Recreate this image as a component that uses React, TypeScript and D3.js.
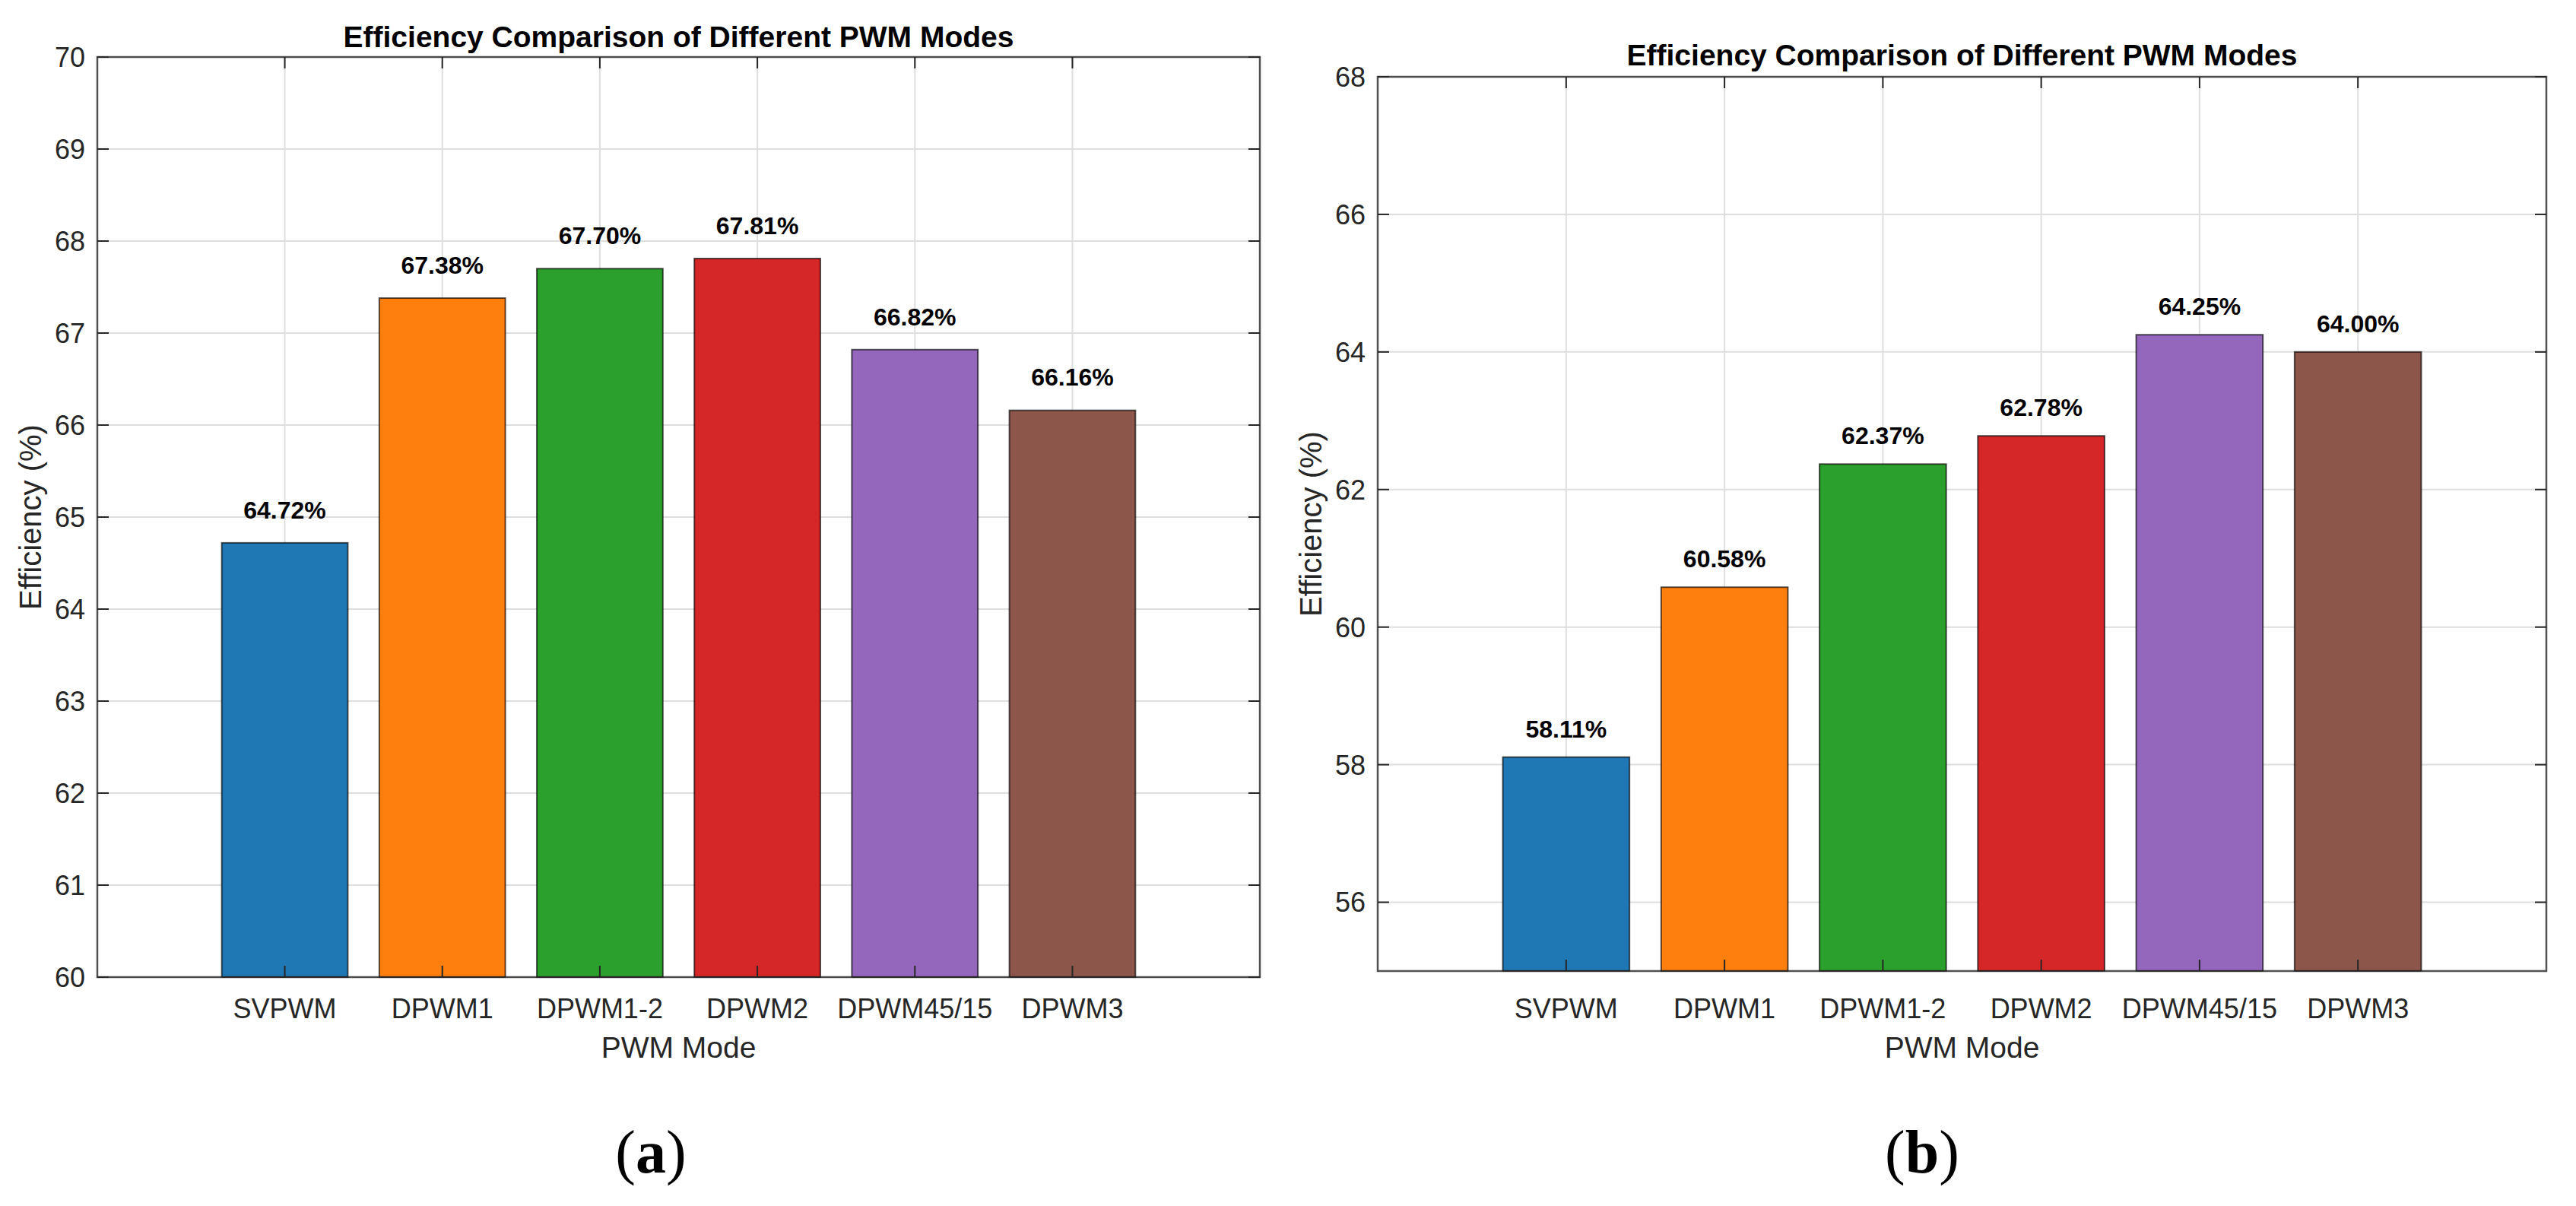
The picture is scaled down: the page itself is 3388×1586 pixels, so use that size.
import React, { useEffect, useRef } from "react";
import * as d3 from "d3";

const modes = ["SVPWM", "DPWM1", "DPWM1-2", "DPWM2", "DPWM45/15", "DPWM3"];
const effA = [64.72, 67.38, 67.7, 67.81, 66.82, 66.16];
const effB = [58.11, 60.58, 62.37, 62.78, 64.25, 64.0];
const ticksA = [60, 61, 62, 63, 64, 65, 66, 67, 68, 69, 70];
const ticksB = [56, 58, 60, 62, 64, 66, 68];
const colors = ["#1f77b4", "#ff7f0e", "#2ca02c", "#d62728", "#9467bd", "#8c564b"];

const titleText = "Efficiency Comparison of Different PWM Modes";
const font = "'Liberation Sans', Arial, Helvetica, sans-serif";
const axisColor = "#262626";

interface Panel {
  values: number[];
  yDomain: [number, number];
  yTicks: number[];
  box: { left: number; right: number; top: number; bottom: number };
  titleY: number;
  tag: string;
  tagX: number;
}

const App: React.FC = () => {
  const svgRef = useRef<SVGSVGElement | null>(null);

  useEffect(() => {
    const svg = d3.select(svgRef.current);
    svg.selectAll("*").remove();

    const W = 3388;
    const H = 1586;
    svg.attr("width", W).attr("height", H).attr("viewBox", `0 0 ${W} ${H}`);
    svg.append("rect").attr("width", W).attr("height", H).attr("fill", "#ffffff");

    const panels: Panel[] = [
      {
        values: effA,
        yDomain: [60, 70],
        yTicks: ticksA,
        box: { left: 128, right: 1657, top: 75, bottom: 1285 },
        titleY: 62,
        tag: "a",
        tagX: 856,
      },
      {
        values: effB,
        yDomain: [55, 68],
        yTicks: ticksB,
        box: { left: 1812, right: 3349, top: 101, bottom: 1277 },
        titleY: 86,
        tag: "b",
        tagX: 2528,
      },
    ];

    panels.forEach(p => {
      const { left, right, top, bottom } = p.box;
      const g = svg.append("g");

      const x = d3.scaleLinear().domain([-0.19, 7.19]).range([left, right]);
      const y = d3.scaleLinear().domain(p.yDomain).range([bottom, top]);
      const idx = modes.map((_, i) => i + 1);

      // grid
      g.append("g")
        .selectAll("line")
        .data(p.yTicks)
        .enter()
        .append("line")
        .attr("x1", left)
        .attr("x2", right)
        .attr("y1", d => y(d))
        .attr("y2", d => y(d))
        .attr("stroke", "#dedede")
        .attr("stroke-width", 2);

      g.append("g")
        .selectAll("line")
        .data(idx)
        .enter()
        .append("line")
        .attr("x1", d => x(d))
        .attr("x2", d => x(d))
        .attr("y1", top)
        .attr("y2", bottom)
        .attr("stroke", "#dedede")
        .attr("stroke-width", 2);

      // bars
      g.append("g")
        .selectAll("rect")
        .data(p.values)
        .enter()
        .append("rect")
        .attr("x", (_, i) => x(i + 1 - 0.4))
        .attr("width", x(0.8) - x(0))
        .attr("y", d => y(d))
        .attr("height", d => y(p.yDomain[0]) - y(d))
        .attr("fill", (_, i) => colors[i])
        .attr("stroke", "#000")
        .attr("stroke-opacity", 0.65)
        .attr("stroke-width", 2);

      // value labels
      g.append("g")
        .selectAll("text")
        .data(p.values)
        .enter()
        .append("text")
        .attr("x", (_, i) => x(i + 1))
        .attr("y", d => y(d + 0.2) - 8)
        .attr("text-anchor", "middle")
        .attr("font-family", font)
        .attr("font-weight", "bold")
        .attr("font-size", 32)
        .attr("fill", "#000")
        .text(d => d.toFixed(2) + "%");

      // box + ticks
      g.append("rect")
        .attr("x", left)
        .attr("y", top)
        .attr("width", right - left)
        .attr("height", bottom - top)
        .attr("fill", "none")
        .attr("stroke", axisColor)
        .attr("stroke-opacity", 0.8)
        .attr("stroke-width", 2.5);

      const tl = 15;
      const tickG = g.append("g").attr("stroke", axisColor).attr("stroke-width", 2);
      idx.forEach(d => {
        tickG.append("line").attr("x1", x(d)).attr("x2", x(d)).attr("y1", bottom).attr("y2", bottom - tl);
        tickG.append("line").attr("x1", x(d)).attr("x2", x(d)).attr("y1", top).attr("y2", top + tl);
      });
      p.yTicks.forEach(d => {
        tickG.append("line").attr("x1", left).attr("x2", left + tl).attr("y1", y(d)).attr("y2", y(d));
        tickG.append("line").attr("x1", right).attr("x2", right - tl).attr("y1", y(d)).attr("y2", y(d));
      });

      // y tick labels
      g.append("g")
        .selectAll("text")
        .data(p.yTicks)
        .enter()
        .append("text")
        .attr("x", left - 16)
        .attr("y", d => y(d))
        .attr("dy", "0.36em")
        .attr("text-anchor", "end")
        .attr("font-family", font)
        .attr("font-size", 36)
        .attr("fill", axisColor)
        .text(d => String(d));

      // x tick labels
      g.append("g")
        .selectAll("text")
        .data(modes)
        .enter()
        .append("text")
        .attr("x", (_, i) => x(i + 1))
        .attr("y", 1339)
        .attr("text-anchor", "middle")
        .attr("font-family", font)
        .attr("font-size", 36)
        .attr("fill", axisColor)
        .text(d => d);

      // axis labels
      g.append("text")
        .attr("x", (left + right) / 2)
        .attr("y", 1391)
        .attr("text-anchor", "middle")
        .attr("font-family", font)
        .attr("font-size", 39)
        .attr("fill", axisColor)
        .text("PWM Mode");

      g.append("text")
        .attr("transform", `translate(${left - 74}, ${(top + bottom) / 2}) rotate(-90)`)
        .attr("text-anchor", "middle")
        .attr("font-family", font)
        .attr("font-size", 40)
        .attr("fill", axisColor)
        .text("Efficiency (%)");

      // title
      g.append("text")
        .attr("x", (left + right) / 2)
        .attr("y", p.titleY)
        .attr("text-anchor", "middle")
        .attr("font-family", font)
        .attr("font-weight", "bold")
        .attr("font-size", 39)
        .attr("fill", "#000")
        .text(titleText);

      // panel tag
      const tag = g.append("text")
        .attr("x", p.tagX)
        .attr("y", 1542)
        .attr("text-anchor", "middle")
        .attr("font-family", "'Liberation Serif', 'Times New Roman', serif")
        .attr("font-size", 80)
        .attr("fill", "#000");
      tag.append("tspan").text("(");
      tag.append("tspan").attr("font-weight", "bold").text(p.tag);
      tag.append("tspan").text(")");
    });
  }, []);

  return (
    <div style={{ position: "absolute", left: 0, top: 0 }}>
      <svg ref={svgRef} style={{ display: "block" }}></svg>
    </div>
  );
};

export default App;
